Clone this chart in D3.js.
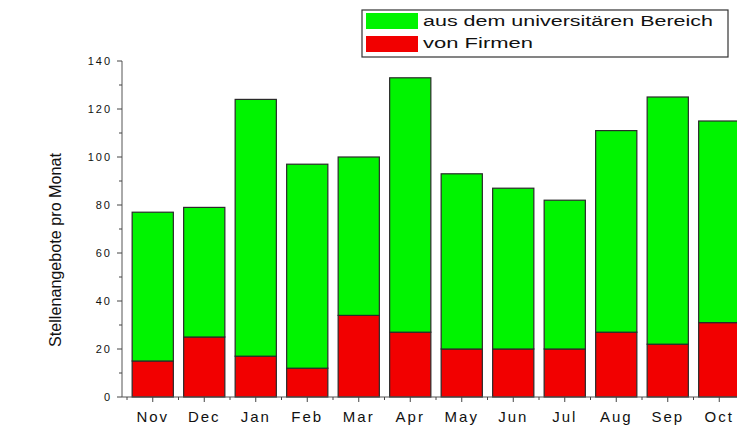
<!DOCTYPE html>
<html>
<head>
<meta charset="utf-8">
<script src="https://cdn.jsdelivr.net/npm/d3@7"></script>
<style>
    body { margin: 0; background: #fff; }
    svg text { font-family: "Liberation Sans", Arial, sans-serif; fill: #111; }
</style>
</head>
<body>
<div id="chart"></div>
<script>
(function () {
    // Monate
    var months = ['Nov', 'Dec', 'Jan', 'Feb', 'Mar', 'Apr', 'May', 'Jun', 'Jul', 'Aug', 'Sep', 'Oct']
    // Stellen von Firmen (rot, unten)
    var firmen = [15, 25, 17, 12, 34, 27, 20, 20, 20, 27, 22, 31]
    // Stellen aus dem universitären Bereich (grün, oben gestapelt)
    var uni = [62, 54, 107, 85, 66, 106, 73, 67, 62, 84, 103, 84]
    var yTicks = [0, 20, 40, 60, 80, 100, 120, 140]
    var legendLabels = ['aus dem universitären Bereich', 'von Firmen']
    var colors = ['#00f400', '#f20000']

    var width = 737, height = 427
    var svg = d3.select('#chart').append('svg').attr('width', width).attr('height', height)

    var x = d3.scaleBand().domain(months).range([127, 127 + 51.5 * months.length]).paddingInner(0.2).paddingOuter(0.1)
    var y = d3.scaleLinear().domain([0, 140]).range([397, 61])

    // Stapel
    var rows = months.map(function (m, i) { return {month: m, firmen: firmen[i], uni: uni[i]} })
    var stack = d3.stack().keys(['firmen', 'uni'])(rows)
    var keyColor = {firmen: colors[1], uni: colors[0]}

    var plot = svg.append('g')
    stack.forEach(function (layer) {
        plot.selectAll('rect.' + layer.key).data(layer).enter().append('rect')
            .attr('class', layer.key)
            .attr('x', function (d) { return x(d.data.month) })
            .attr('width', x.bandwidth())
            .attr('y', function (d) { return y(d[1]) })
            .attr('height', function (d) { return y(d[0]) - y(d[1]) })
            .attr('fill', keyColor[layer.key])
            .attr('stroke', '#2a2a2a')
            .attr('stroke-width', 1.2)
    })

    // y-Achse
    var yAxis = svg.append('g').attr('transform', 'translate(122,0)')
    yAxis.append('line').attr('x1', 0).attr('x2', 0).attr('y1', y(140)).attr('y2', y(0)).attr('stroke', '#555')
    yAxis.selectAll('line.major').data(yTicks).enter().append('line')
        .attr('x1', -5).attr('x2', 0)
        .attr('y1', function (d) { return y(d) }).attr('y2', function (d) { return y(d) })
        .attr('stroke', '#444')
    yAxis.selectAll('line.minor').data(d3.range(10, 140, 20)).enter().append('line')
        .attr('x1', -3).attr('x2', 0)
        .attr('y1', function (d) { return y(d) }).attr('y2', function (d) { return y(d) })
        .attr('stroke', '#444')
    yAxis.selectAll('text').data(yTicks).enter().append('text')
        .attr('x', -10).attr('y', function (d) { return y(d) })
        .attr('dy', '0.35em').attr('text-anchor', 'end')
        .style('font-size', '11px').style('letter-spacing', '2px')
        .text(function (d) { return d })

    // x-Achse
    var xAxis = svg.append('g').attr('transform', 'translate(0,397)')
    xAxis.append('line').attr('x1', 122).attr('x2', width).attr('y1', 0).attr('y2', 0).attr('stroke', '#555')
    xAxis.selectAll('line.major').data(months).enter().append('line')
        .attr('x1', function (d) { return x(d) + x.bandwidth() / 2 }).attr('x2', function (d) { return x(d) + x.bandwidth() / 2 })
        .attr('y1', 0).attr('y2', 5).attr('stroke', '#444')
    xAxis.selectAll('line.minor').data(months).enter().append('line')
        .attr('x1', function (d) { return x(d) - x.step() * x.paddingInner() / 2 })
        .attr('x2', function (d) { return x(d) - x.step() * x.paddingInner() / 2 })
        .attr('y1', 0).attr('y2', 3).attr('stroke', '#444')
    xAxis.selectAll('text').data(months).enter().append('text')
        .attr('x', function (d) { return x(d) + x.bandwidth() / 2 }).attr('y', 25)
        .attr('text-anchor', 'middle')
        .style('font-size', '15px').style('letter-spacing', '2px')
        .text(function (d) { return d })

    // Achsentitel
    svg.append('text')
        .attr('transform', 'translate(61,250) rotate(-90)')
        .attr('text-anchor', 'middle')
        .style('font-size', '16px')
        .attr('textLength', 194).attr('lengthAdjust', 'spacingAndGlyphs')
        .text('Stellenangebote pro Monat')

    // Legende
    var legend = svg.append('g')
    legend.append('rect').attr('x', 362).attr('y', 10).attr('width', 366).attr('height', 47)
        .attr('fill', '#fff').attr('stroke', '#333').attr('stroke-width', 1.2)
    legendLabels.forEach(function (label, i) {
        legend.append('rect').attr('x', 366).attr('y', 13 + i * 23).attr('width', 52).attr('height', 16)
            .attr('fill', colors[i])
        legend.append('text').attr('x', 423).attr('y', 26 + i * 22)
            .style('font-size', '14px')
            .attr('textLength', i === 0 ? 290 : 110).attr('lengthAdjust', 'spacingAndGlyphs')
            .text(label)
    })
}).call(this)
</script>
</body>
</html>
